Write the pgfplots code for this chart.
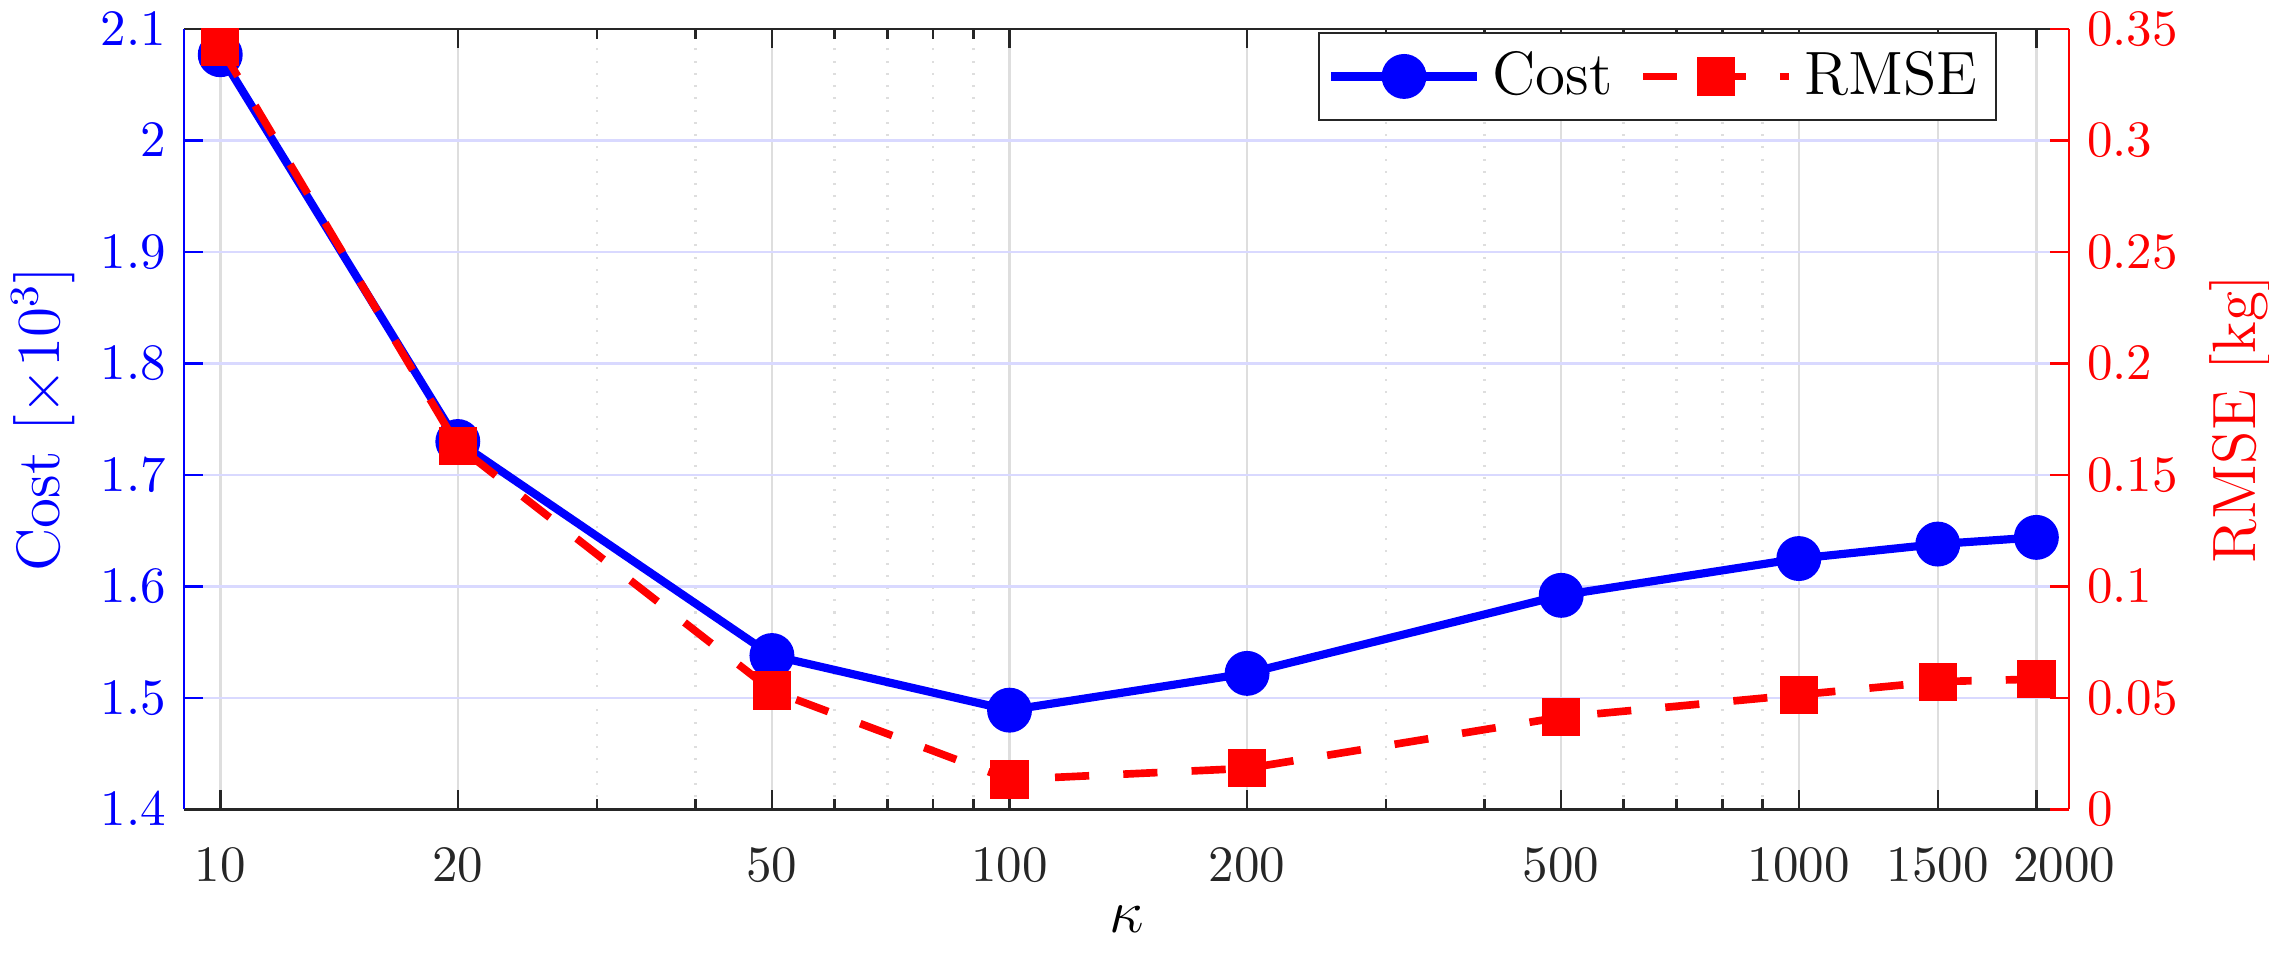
\documentclass[border=0pt]{standalone}
\usepackage{pgfplots}
\pgfplotsset{compat=1.18}

\definecolor{axgray}{RGB}{38,38,38}
\definecolor{gridgray}{RGB}{222,222,222}
\definecolor{gridblue}{RGB}{217,217,255}
\definecolor{minorgray}{RGB}{160,160,160}

% kappa sweep: total cost (x10^3) and RMSE [kg]
\pgfplotstableread{
kappa cost  rmse
10    2.077 0.342
20    1.730 0.163
50    1.538 0.0533
100   1.489 0.0134
200   1.522 0.0184
500   1.592 0.0414
1000  1.625 0.0514
1500  1.638 0.0573
2000  1.644 0.0584
}\sweep

% longer legend samples, mark in the middle
\pgfplotsset{
  legend image code/.code={%
    \draw[mark repeat=2,mark phase=2,#1]
      plot coordinates {(0pt,0pt) (14.35pt,0pt) (28.7pt,0pt)};},
}

\begin{document}
\begin{tikzpicture}
\path[use as bounding box] (-36.1pt,-28.9pt) rectangle (408.8pt,158.7pt);

% left axis: cost
\begin{axis}[
  scale only axis, width=369.6pt, height=153pt,
  at={(0,0)}, anchor=south west,
  xmode=log, xmin=9, xmax=2200,
  tick align=inside,
  major tick length=3.8pt, minor tick length=2pt,
  separate axis lines,
  x axis line style={axgray, line width=0.5pt},
  y axis line style={blue, line width=0.5pt},
  ymin=1.4, ymax=2.1,
  ytick={1.4,1.5,1.6,1.7,1.8,1.9,2.0,2.1},
  ytick pos=left, xtick pos=both,
  xtick={10,20,50,100,200,500,1000,1500,2000},
  xticklabels={10,20,50,100,200,500,1000,1500,\hspace*{11pt}2000},
  minor xtick={30,40,60,70,80,90,300,400,600,700,800,900},
  xmajorgrids, xminorgrids, ymajorgrids,
  every axis x grid/.style={gridgray, line width=0.5pt},
  every axis y grid/.style={gridblue, line width=0.5pt},
  minor grid style={minorgray, dotted, line width=0.6pt},
  x tick style={axgray, line width=0.5pt},
  y tick style={blue, line width=0.5pt},
  xticklabel style={axgray, yshift=-4pt},
  yticklabel style={blue},
  xlabel={$\kappa$},
  xlabel style={at={(axis description cs:0.5,-0.141)}, anchor=center, font=\large},
  ylabel={Cost $[\times 10^3]$},
  ylabel style={at={(axis description cs:-0.0747,0.5)}, anchor=center, blue, font=\large},
]
\addplot[blue, line width=1.6pt, mark=*, mark size=3.6pt]
  table[x=kappa, y=cost] {\sweep};
\end{axis}

% right axis: RMSE
\begin{axis}[
  scale only axis, width=369.6pt, height=153pt,
  at={(0,0)}, anchor=south west,
  xmode=log, xmin=9, xmax=2200,
  tick align=inside,
  major tick length=3.8pt,
  axis x line=none, axis y line*=right,
  y axis line style={red, line width=0.5pt, -},
  ymin=0, ymax=0.35,
  ytick={0,0.05,0.1,0.15,0.2,0.25,0.3,0.35},
  scaled y ticks=false,
  y tick style={red, line width=0.5pt},
  yticklabel style={red, /pgf/number format/fixed},
  ylabel={RMSE [kg]},
  ylabel style={at={(axis description cs:1.0906,0.5)}, anchor=center, red, font=\large},
  legend columns=2,
  legend style={at={(0.962,0.996)}, anchor=north east, draw=axgray, fill=white,
    font=\large, inner xsep=1.5pt, inner ysep=1.5pt,
    nodes={inner xsep=2.2pt},
    /tikz/every even column/.append style={column sep=3pt}},
]
\addlegendimage{blue, line width=1.6pt, mark=*, mark size=3.6pt}
\addlegendentry{Cost}
\addplot[red, line width=1.5pt, dash pattern=on 6.7pt off 6.7pt,
  mark=square*, mark size=3pt, mark options={solid}]
  table[x=kappa, y=rmse] {\sweep};
\addlegendentry{RMSE}
\end{axis}
\end{tikzpicture}
\end{document}
